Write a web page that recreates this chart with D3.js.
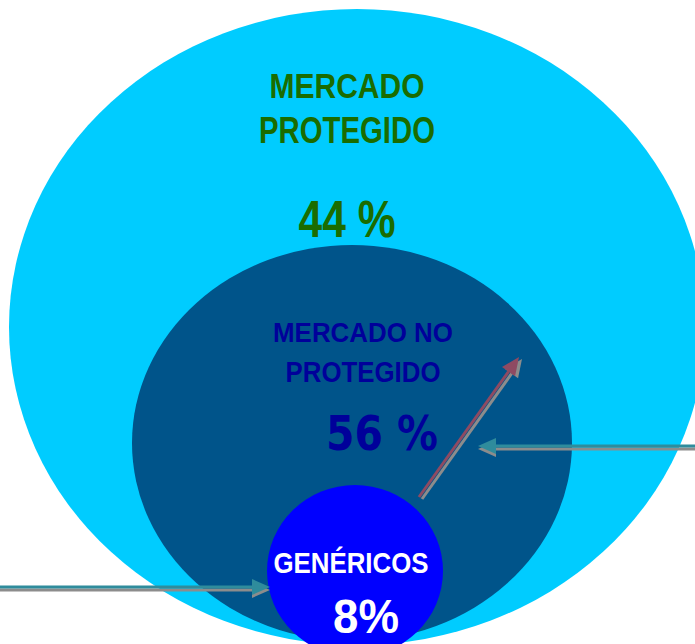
<!DOCTYPE html>
<html lang="es">
<head>
<meta charset="UTF-8">
<title>Mercado protegido / no protegido</title>
<script src="https://cdnjs.cloudflare.com/ajax/libs/d3/7.8.5/d3.min.js"></script>
<style>
  body { margin: 0; background: #fff; }
  svg { display: block; }
</style>
</head>
<body>
<svg width="695" height="644"></svg>
<script>
  // data
  const segmentNames = ["MERCADO PROTEGIDO", "MERCADO NO PROTEGIDO", "GENÉRICOS"];
  const segmentValues = [44, 56, 8];
  const valueLabels = ["44 %", "56 %", "8%"];
  const nameLines = [["MERCADO", "PROTEGIDO"], ["MERCADO NO", "PROTEGIDO"], ["GENÉRICOS"]];

  const svg = d3.select("svg");
  const fills = ["#00ccff", "#00548a", "#0000ff"];
  const textColors = ["#1b6c00", "#00009a", "#ffffff"];

  // nested shapes: outer ellipse, inner ellipse, small circle
  const shapes = [
    {cx: 357, cy: 327, rx: 348, ry: 318},
    {cx: 352, cy: 443, rx: 220, ry: 198},
    {cx: 355, cy: 571, rx: 88, ry: 86}
  ];

  svg.selectAll("ellipse")
    .data(shapes)
    .enter()
    .append("ellipse")
    .attr("cx", d => d.cx)
    .attr("cy", d => d.cy)
    .attr("rx", d => d.rx)
    .attr("ry", d => d.ry)
    .attr("fill", (d, i) => fills[i]);

  // arrows (gray shadow + coloured line)
  function arrow(x1, y1, x2, y2, color, dx, dy) {
    const g = svg.append("g");
    [["#8c8c8c", dx, dy], [color, 0, 0]].forEach(([c, ox, oy]) => {
      const a = Math.atan2(y2 - y1, x2 - x1);
      const len = 18, half = 8;
      const bx = x2 - len * Math.cos(a), by = y2 - len * Math.sin(a);
      const px = -Math.sin(a) * half, py = Math.cos(a) * half;
      const s = g.append("g").attr("transform", `translate(${ox},${oy})`);
      s.append("line")
        .attr("x1", x1).attr("y1", y1).attr("x2", bx).attr("y2", by)
        .attr("stroke", c).attr("stroke-width", 3);
      s.append("path")
        .attr("d", `M${x2},${y2}L${bx + px},${by + py}L${bx - px},${by - py}Z`)
        .attr("fill", c);
    });
  }

  arrow(419, 497, 519, 357, "#8e4a62", 3, 2);
  arrow(700, 446, 478, 446, "#2f8c9c", 0, 3);
  arrow(-5, 587, 270, 587, "#2f8c9c", 0, 3);

  // text, squeezed horizontally to look like a condensed face
  const sans = "'Liberation Sans', Arial, sans-serif";
  const nameSpecs = [
    {x: 347, ys: [98, 143], sizes: [35, 36], widths: [155, 176]},
    {x: 363, ys: [342, 382], sizes: [28, 30], widths: [180, 155]},
    {x: 351, ys: [573], sizes: [29], widths: [155]}
  ];
  const valueSpecs = [
    {x: 347, y: 237, size: 52, width: 97, font: sans},
    {x: 382, y: 450, size: 48, width: 112, font: "'DejaVu Sans', sans-serif"},
    {x: 366, y: 633, size: 49, width: 66, font: sans}
  ];

  function squeezed(x, y, str, size, width, font, color) {
    const t = svg.append("text")
      .attr("x", 0).attr("y", 0)
      .attr("text-anchor", "middle")
      .attr("font-family", font)
      .attr("font-weight", "bold")
      .attr("font-size", size)
      .attr("fill", color)
      .text(str);
    const w = t.node().getBBox().width;
    const k = Math.min(1, width / w);
    t.attr("transform", `translate(${x},${y}) scale(${k},1)`);
  }

  segmentNames.forEach((name, i) => {
    const spec = nameSpecs[i];
    nameLines[i].forEach((line, j) => {
      squeezed(spec.x, spec.ys[j], line, spec.sizes[j], spec.widths[j], sans, textColors[i]);
    });
    const v = valueSpecs[i];
    squeezed(v.x, v.y, valueLabels[i], v.size, v.width, v.font, textColors[i]);
  });
</script>
</body>
</html>
